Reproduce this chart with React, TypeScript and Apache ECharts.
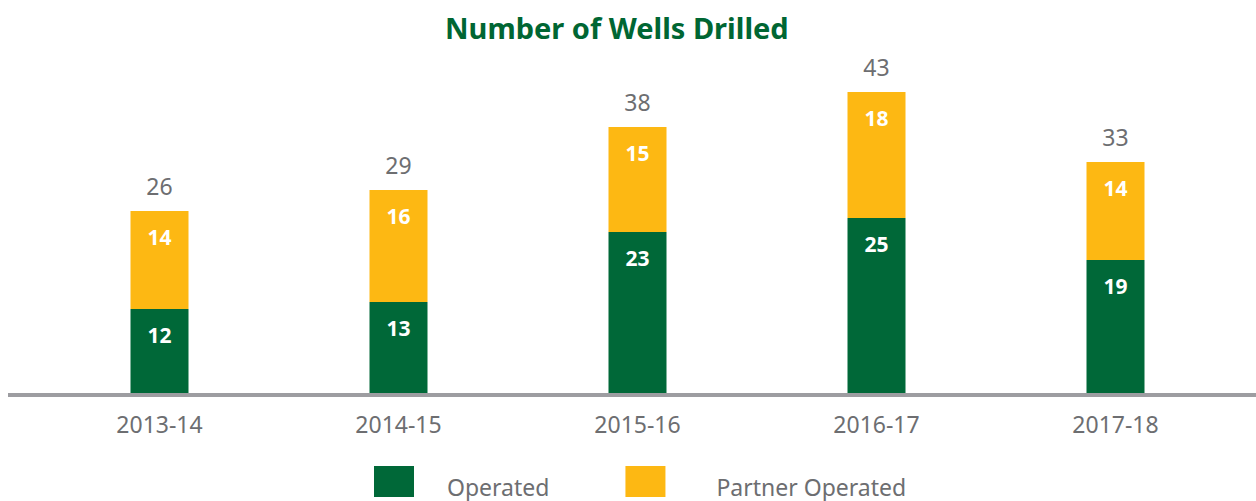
import React, { useEffect, useRef } from "react";
import * as echarts from "echarts";

const categories = ["2013-14", "2014-15", "2015-16", "2016-17", "2017-18"];
const operated = [12, 13, 23, 25, 19];
const partnerOperated = [14, 16, 15, 18, 14];
const totals = [26, 29, 38, 43, 33];

const GREEN = "#006838";
const YELLOW = "#FDB813";
const GREY = "#6d6e71";
const FONT = "'Noto Sans', 'DejaVu Sans', sans-serif";

export default function App() {
  const ref = useRef<HTMLDivElement>(null);
  useEffect(() => {
    document.body.style.margin = "0";
    if (!ref.current) return;
    const chart = echarts.init(ref.current, null, { renderer: "svg" });
    chart.setOption({
      animation: false,
      title: {
        text: "Number of Wells Drilled",
        left: 440,
        top: 8,
        textStyle: { color: "#006633", fontSize: 29, fontWeight: "bold", fontFamily: FONT },
      },
      legend: {
        left: 374,
        top: 466,
        padding: 0,
        itemWidth: 40,
        itemHeight: 31,
        itemGap: 76,
        icon: "rect",
        data: [
          { name: "Operated", textStyle: { padding: [0, 0, 0, 28] } },
          { name: "Partner Operated", textStyle: { padding: [0, 0, 0, 46] } },
        ],
        formatter: (name: string) => "{t|" + name + "}",
        textStyle: {
          color: GREY,
          fontSize: 23,
          fontFamily: FONT,
          rich: { t: { color: GREY, fontSize: 23, fontFamily: FONT, padding: [10, 0, 0, 0] } },
        },
      },
      grid: { left: 40, right: 21, top: 43, bottom: 108 },
      xAxis: {
        type: "category",
        data: categories,
        axisLine: { show: false },
        axisTick: { show: false },
        axisLabel: { color: GREY, fontSize: 23, margin: 19, fontFamily: FONT },
      },
      yAxis: { type: "value", min: 0, max: 50, show: false, splitLine: { show: false } },
      graphic: [
        { type: "rect", shape: { x: 8, y: 393, width: 1248, height: 4 }, style: { fill: "#9d9da1" }, z: 10 },
      ],
      series: [
        {
          name: "Operated",
          type: "bar",
          stack: "a",
          barWidth: 58,
          data: operated,
          itemStyle: { color: GREEN },
          label: { show: true, position: "insideTop", distance: 15, color: "#fff", fontSize: 21, fontWeight: "bold", fontFamily: FONT },
        },
        {
          name: "Partner Operated",
          type: "bar",
          stack: "a",
          barWidth: 58,
          data: partnerOperated,
          itemStyle: { color: YELLOW },
          label: { show: true, position: "insideTop", distance: 15, color: "#fff", fontSize: 21, fontWeight: "bold", fontFamily: FONT },
        },
        {
          name: "Total",
          type: "bar",
          stack: "a",
          barWidth: 58,
          data: totals.map(() => 0),
          itemStyle: { color: "transparent" },
          label: {
            show: true,
            position: "top",
            distance: 14,
            color: GREY,
            fontSize: 23,
            fontFamily: FONT,
            formatter: (p: any) => String(totals[p.dataIndex]),
          },
        },
      ],
    });
    return () => chart.dispose();
  }, []);
  return <div ref={ref} style={{ width: 1256, height: 501 }} />;
}
